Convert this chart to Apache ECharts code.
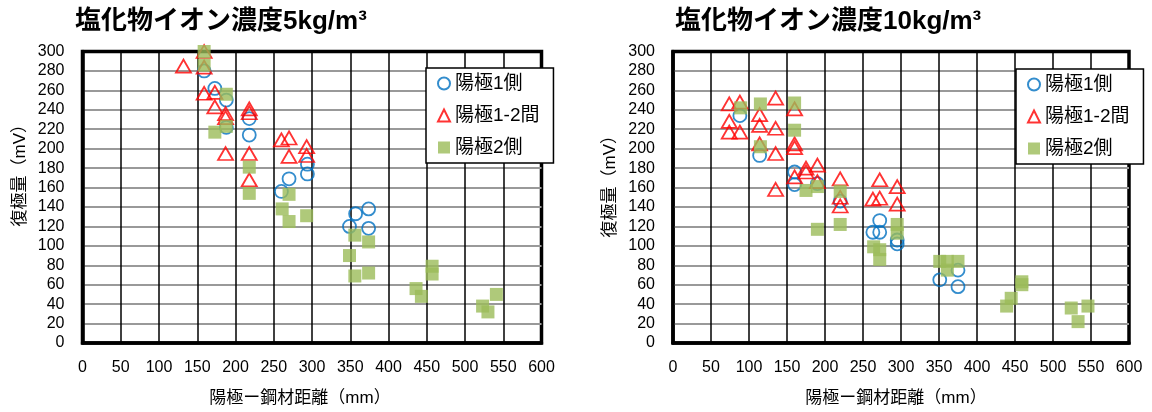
<!DOCTYPE html>
<html>
<head>
<meta charset="utf-8">
<script src="https://cdn.jsdelivr.net/npm/echarts@6/dist/echarts.min.js"></script>
<style>
  html, body { margin: 0; padding: 0; background: #fff; }
  #chart { width: 1152px; height: 412px; }
</style>
</head>
<body>
<div id="chart"></div>
<script>
// 塩化物イオン濃度 5kg/m3 : [陽極－鋼材距離 (mm), 復極量 (mV)]
const side1_5kg = [
  [159, 280], [173, 262], [188, 250], [188, 222], [218, 231], [218, 214],
  [260, 156], [270, 169], [294, 184], [294, 174], [349, 120], [357, 133],
  [374, 138], [374, 118]
];
const mid12_5kg = [
  [132, 285], [159, 300], [159, 284], [159, 257], [173, 258], [173, 243],
  [187, 236], [187, 232], [187, 195], [218, 241], [218, 237], [218, 195],
  [218, 168], [260, 209], [270, 211], [270, 192], [293, 202], [293, 193]
];
const side2_5kg = [
  [159, 300], [159, 286], [188, 256], [173, 217], [188, 223], [218, 181],
  [218, 154], [270, 153], [261, 138], [270, 125], [293, 131], [356, 111],
  [374, 104], [349, 90], [356, 69], [374, 72], [457, 79], [457, 71],
  [436, 56], [443, 48], [523, 38], [530, 32], [541, 50]
];

// 塩化物イオン濃度 10kg/m3
const side1_10kg = [
  [88, 234], [114, 193], [160, 176], [160, 163], [190, 164], [220, 146],
  [272, 126], [263, 114], [272, 114], [295, 106], [295, 102], [351, 65],
  [375, 58], [375, 75]
];
const mid12_10kg = [
  [74, 246], [74, 228], [74, 217], [88, 217], [88, 248], [114, 235],
  [114, 224], [114, 205], [135, 252], [135, 221], [135, 195], [135, 158],
  [160, 241], [160, 205], [160, 201], [160, 171], [175, 180], [175, 176],
  [190, 183], [190, 166], [220, 169], [220, 150], [220, 141], [272, 168],
  [263, 148], [272, 149], [295, 161], [295, 143]
];
const side2_10kg = [
  [89, 242], [115, 246], [160, 247], [160, 219], [115, 202], [175, 157],
  [190, 161], [220, 156], [220, 122], [190, 117], [295, 122], [295, 113],
  [264, 99], [272, 96], [272, 86], [351, 84], [361, 84], [375, 84],
  [361, 75], [459, 63], [459, 60], [445, 46], [439, 38], [524, 36],
  [533, 22], [546, 38]
];

const seriesNames = ['陽極1側', '陽極1-2間', '陽極2側'];
const chartTitles = ['塩化物イオン濃度5kg/m³', '塩化物イオン濃度10kg/m³'];
const xName = '陽極ー鋼材距離（mm）';
const yName = '復極量（mV）';

// Latin glyphs from Liberation Sans, Japanese glyphs fall back to Noto Sans CJK JP
const MIXED = '"Liberation Sans", "Noto Sans CJK JP", sans-serif';
const LATIN = '"Liberation Sans", Arial, sans-serif';

const grids = [
  { left: 82.5, top: 51.5, width: 459, height: 291.5 },
  { left: 673, top: 51.5, width: 456, height: 291.5 }
];

function xAxisFor(i, namePadRight) {
  return {
    gridIndex: i, type: 'value', min: 0, max: 600, interval: 50,
    name: xName, nameLocation: 'middle', nameGap: 47,
    nameTextStyle: { fontFamily: MIXED, fontSize: 17, color: '#000', padding: [0, namePadRight, 0, 0] },
    axisLine: { show: true, onZero: false, lineStyle: { color: '#000', width: 3.5 } },
    axisTick: { show: false },
    axisLabel: { fontFamily: LATIN, fontSize: 16, color: '#000', margin: 17 },
    splitLine: { show: true, showMinLine: false, showMaxLine: false, lineStyle: { color: '#000', width: 1.5 } }
  };
}
function yAxisFor(i, namePadLeft) {
  return {
    gridIndex: i, type: 'value', min: 0, max: 300, interval: 20,
    name: yName, nameLocation: 'middle', nameGap: 54,
    nameTextStyle: { fontFamily: MIXED, fontSize: 17, color: '#000', padding: [0, 0, 0, namePadLeft] },
    axisLine: { show: true, onZero: false, lineStyle: { color: '#000', width: 3.5 } },
    axisTick: { show: false },
    axisLabel: { fontFamily: LATIN, fontSize: 16, color: '#000', margin: 18 },
    splitLine: { show: true, showMinLine: false, showMaxLine: false, lineStyle: { color: '#999', width: 2 } }
  };
}

const styles = [
  { symbol: 'circle', symbolSize: 13, itemStyle: { color: 'rgba(255,255,255,0)', borderColor: '#0070C0', borderWidth: 1.8 } },
  { symbol: 'triangle', symbolSize: [15, 13], itemStyle: { color: 'rgba(255,255,255,0)', borderColor: '#FF0000', borderWidth: 1.8 } },
  { symbol: 'rect', symbolSize: 13, itemStyle: { color: '#9BBB59' } }
];

const dataSets = [
  [side1_5kg, mid12_5kg, side2_5kg],
  [side1_10kg, mid12_10kg, side2_10kg]
];

const series = [];
dataSets.forEach((sets, g) => {
  sets.forEach((d, k) => {
    series.push(Object.assign({
      name: seriesNames[k], type: 'scatter', xAxisIndex: g, yAxisIndex: g,
      data: d, clip: false, emphasis: { disabled: true }
    }, styles[k]));
  });
});

function legendAt(left, top) {
  return {
    data: seriesNames, orient: 'vertical', left: left, top: top,
    padding: [6, 14, 6, 11], itemGap: 13, itemWidth: 12, itemHeight: 12,
    backgroundColor: '#fff', borderColor: '#000', borderWidth: 1.5,
    textStyle: { fontFamily: MIXED, fontSize: 19, color: '#000' },
    selectedMode: false
  };
}

const option = {
  animation: false,
  backgroundColor: '#fff',
  title: [
    { text: chartTitles[0], left: 75, top: 9, padding: 0,
      textStyle: { fontFamily: MIXED, fontSize: 26, fontWeight: 'bold', color: '#000' } },
    { text: chartTitles[1], left: 675, top: 9, padding: 0,
      textStyle: { fontFamily: MIXED, fontSize: 26, fontWeight: 'bold', color: '#000' } }
  ],
  grid: grids.map(g => Object.assign({ show: true, borderColor: '#000', borderWidth: 3.5, backgroundColor: '#fff' }, g)),
  xAxis: [xAxisFor(0, 24), xAxisFor(1, 10)],
  yAxis: [yAxisFor(0, 52), yAxisFor(1, 30)],
  legend: [legendAt(426, 68), legendAt(1016, 69)],
  series: series
};

const chart = echarts.init(document.getElementById('chart'), null, { renderer: 'canvas' });
chart.setOption(option);
</script>
</body>
</html>
